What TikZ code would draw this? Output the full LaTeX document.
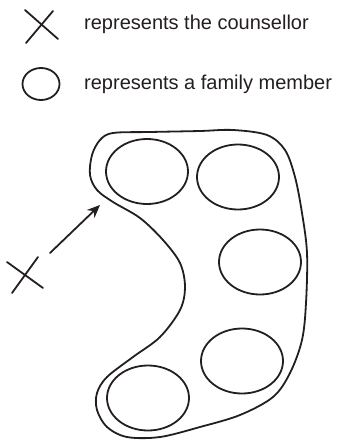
\documentclass[tikz,border=0pt]{standalone}
\usepackage{fontspec}
\setmainfont{Liberation Sans}
\usetikzlibrary{shapes.geometric,arrows.meta}
\definecolor{ink}{HTML}{231F20}
\begin{document}
\begin{tikzpicture}[x=1pt,y=-1pt,
  ln/.style={draw=ink,line width=1.8pt,line cap=round,line join=round},
  member/.style={ln,ellipse,minimum width=82pt,minimum height=65pt,inner sep=0pt},
  legtext/.style={anchor=base west,inner sep=0pt,text=ink,font=\fontsize{20}{24}\selectfont}]
\useasboundingbox (0,0) rectangle (342,441);
% legend
\coordinate (lx) at (41,26);
\draw[ln] (25,10) -- (58,39);
\draw[ln] (26,43) -- (53,11);
\node[legtext] (t1) at (84,30) {represents the counsellor};
\node[member,minimum width=37pt,minimum height=32pt] (le) at (41,84) {};
\node[legtext] (t2) at (84,90) {represents a family member};
% outer group outline
\draw[ln] plot[smooth cycle,tension=0.55] coordinates{
 (150,132) (200,131) (233,130) (267,135) (285,150) (295,177) (302,213)
 (307,253) (306,303) (302,340) (290,373) (273,397) (240,415) (200,427)
 (160,437) (127,437) (107,427) (97,410) (97,393) (107,377) (133,357)
 (160,337) (180,310) (185,287) (180,263) (163,240) (140,218) (113,202)
 (97,190) (90,175) (92,155) (100,140) (113,133)};
% family members
\node[member] (m1) at (147,171.5) {};
\node[member] (m2) at (238,177) {};
\node[member] (m3) at (260,262) {};
\node[member] (m4) at (242,361) {};
\node[member] (m5) at (148,398) {};
% counsellor
\coordinate (cx) at (25,275);
\draw[ln] (7,262) -- (43,288);
\draw[ln] (12,293) -- (38,257);
\coordinate (a0) at (50,253);
\coordinate (a1) at (100,205);
\draw[ln,-{Stealth[length=13pt,width=11pt]}] (a0) -- (a1);
\end{tikzpicture}
\end{document}
